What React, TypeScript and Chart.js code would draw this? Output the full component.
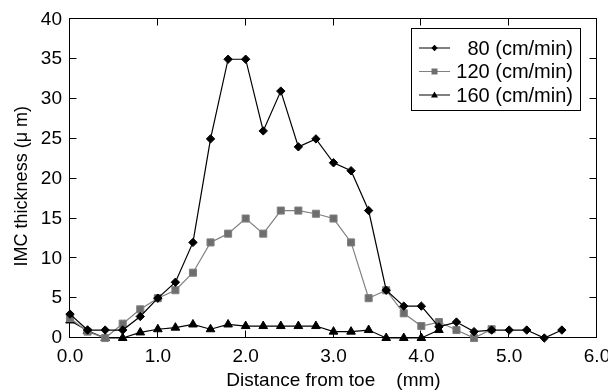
import React, { useEffect, useRef } from 'react';
import { Chart, registerables } from 'chart.js';

Chart.register(...registerables);

// Distance from toe (mm) and IMC thickness (µm) for each speed
const distance80 = [0, 0.2, 0.4, 0.6, 0.8, 1.0, 1.2, 1.4, 1.6, 1.8, 2.0, 2.2, 2.4, 2.6, 2.8, 3.0, 3.2, 3.4, 3.6, 3.8, 4.0, 4.2, 4.4, 4.6, 4.8, 5.0, 5.2, 5.4, 5.6];
const thickness80 = [3, 1, 1, 1, 2.7, 5, 7, 12, 25, 35, 35, 26, 31, 24, 25, 22, 21, 16, 6, 4, 4, 1.4, 2, 0.8, 1, 1, 1, 0, 1];

const distance120 = [0, 0.2, 0.4, 0.6, 0.8, 1.0, 1.2, 1.4, 1.6, 1.8, 2.0, 2.2, 2.4, 2.6, 2.8, 3.0, 3.2, 3.4, 3.6, 3.8, 4.0, 4.2, 4.4, 4.6, 4.8];
const thickness120 = [2.5, 0.8, 0, 1.8, 3.6, 5, 6, 8.2, 12, 13.1, 15, 13.1, 16, 16, 15.6, 15, 12, 5, 6, 3.1, 1.5, 2, 1, 0, 1.1];

const distance160 = [0, 0.2, 0.4, 0.6, 0.8, 1.0, 1.2, 1.4, 1.6, 1.8, 2.0, 2.2, 2.4, 2.6, 2.8, 3.0, 3.2, 3.4, 3.6, 3.8, 4.0, 4.2];
const thickness160 = [2.2, 0.9, 0, 0, 0.7, 1.1, 1.3, 1.7, 1.1, 1.7, 1.5, 1.5, 1.5, 1.5, 1.5, 0.8, 0.8, 1.0, 0, 0, 0, 1.0];

const seriesLabels = ['80 (cm/min)', '120 (cm/min)', '160 (cm/min)'];
const xTitle = 'Distance from toe    (mm)';
const yTitle = 'IMC thickness (μ m)   ';

const FONT = "'Liberation Sans', Arial, sans-serif";

const toPoints = (xs: number[], ys: number[]) => xs.map((x, i) => ({ x, y: ys[i] }));

const framePlugin = {
  id: 'frameTicks',
  beforeDatasetsDraw(chart: any) {
    const { ctx, chartArea, scales } = chart;
    const { left, right, top, bottom } = chartArea;
    const L = Math.round(left) - 0.5;
    const R = Math.round(right) - 0.5;
    const T = Math.round(top) - 0.5;
    const B = Math.round(bottom) - 0.5;
    ctx.save();
    ctx.strokeStyle = '#000';
    ctx.lineWidth = 1;
    ctx.strokeRect(L, T, R - L, B - T);
    const tl = 7;
    ctx.beginPath();
    scales.x.ticks.forEach((t: any) => {
      const px = Math.round(scales.x.getPixelForValue(t.value)) - 0.5;
      ctx.moveTo(px, B);
      ctx.lineTo(px, B - tl);
      ctx.moveTo(px, T);
      ctx.lineTo(px, T + tl);
    });
    scales.y.ticks.forEach((t: any) => {
      const py = Math.round(scales.y.getPixelForValue(t.value)) - 0.5;
      ctx.moveTo(L, py);
      ctx.lineTo(L + tl, py);
      ctx.moveTo(R, py);
      ctx.lineTo(R - tl, py);
    });
    ctx.stroke();
    ctx.restore();
  },
};

const legendPlugin = {
  id: 'boxLegend',
  afterDraw(chart: any) {
    const { ctx } = chart;
    const bx = 411.5, by = 28.5, bw = 169, bh = 82;
    ctx.save();
    ctx.fillStyle = '#fff';
    ctx.fillRect(bx, by, bw, bh);
    ctx.strokeStyle = '#000';
    ctx.lineWidth = 1;
    ctx.strokeRect(bx, by, bw, bh);
    const rows = [48, 71.5, 95];
    chart.data.datasets.forEach((ds: any, i: number) => {
      const y = rows[i];
      ctx.strokeStyle = ds.borderColor;
      ctx.lineWidth = 1;
      ctx.beginPath();
      ctx.moveTo(419, y);
      ctx.lineTo(450, y);
      ctx.stroke();
      ctx.fillStyle = ds.pointBackgroundColor;
      ctx.strokeStyle = ds.pointBorderColor;
      const cx = 434.5;
      const r = 3.2;
      ctx.beginPath();
      if (ds.pointStyle === 'rectRot') {
        ctx.moveTo(cx, y - r);
        ctx.lineTo(cx + r, y);
        ctx.lineTo(cx, y + r);
        ctx.lineTo(cx - r, y);
      } else if (ds.pointStyle === 'rect') {
        ctx.rect(cx - 3, y - 3, 6, 6);
      } else {
        ctx.moveTo(cx, y - 3.5);
        ctx.lineTo(cx + 3.5, y + 2.5);
        ctx.lineTo(cx - 3.5, y + 2.5);
      }
      ctx.closePath();
      ctx.fill();
      ctx.fillStyle = '#000';
      ctx.font = `20px ${FONT}`;
      ctx.textAlign = 'right';
      ctx.textBaseline = 'middle';
      ctx.fillText(ds.label, 573, y + 1);
    });
    ctx.restore();
  },
};

export default function App() {
  const canvasRef = useRef<HTMLCanvasElement | null>(null);

  useEffect(() => {
    const canvas = canvasRef.current;
    if (!canvas) return;
    const chart = new Chart(canvas, {
      type: 'line',
      data: {
        datasets: [
          {
            label: seriesLabels[0],
            data: toPoints(distance80, thickness80),
            borderColor: '#000',
            borderWidth: 1.2,
            pointStyle: 'rectRot',
            pointRadius: 4.2,
            pointBackgroundColor: '#000',
            pointBorderColor: '#000',
            pointBorderWidth: 1,
            clip: false,
          },
          {
            label: seriesLabels[1],
            data: toPoints(distance120, thickness120),
            borderColor: '#808080',
            borderWidth: 1.2,
            pointStyle: 'rect',
            pointRadius: 5,
            pointBackgroundColor: '#6e6e6e',
            pointBorderColor: '#808080',
            pointBorderWidth: 1,
            clip: false,
          },
          {
            label: seriesLabels[2],
            data: toPoints(distance160, thickness160),
            borderColor: '#000',
            borderWidth: 1.2,
            pointStyle: 'triangle',
            pointRadius: 5,
            pointBackgroundColor: '#000',
            pointBorderColor: '#000',
            pointBorderWidth: 1,
            clip: false,
          },
        ] as any,
      },
      options: {
        animation: false,
        responsive: false,
        devicePixelRatio: 1,
        layout: { padding: { top: 16, right: 11, left: 0, bottom: 0 } },
        plugins: {
          legend: { display: false },
          tooltip: { enabled: false },
        },
        elements: { line: { tension: 0 } },
        scales: {
          x: {
            type: 'linear',
            min: 0,
            max: 6,
            grid: { display: false, drawTicks: false },
            border: { display: false },
            ticks: {
              stepSize: 1,
              padding: 7,
              color: '#000',
              font: { family: FONT, size: 19 },
              callback: (v: any) => Number(v).toFixed(1),
              maxRotation: 0,
            },
            title: {
              display: true,
              text: xTitle,
              color: '#000',
              font: { family: FONT, size: 19 },
              padding: { top: 0, bottom: 0 },
            },
            afterFit: (s: any) => {
              s.height = 54;
              s.paddingRight = 0;
            },
          },
          y: {
            min: 0,
            max: 40,
            grid: { display: false, drawTicks: false },
            border: { display: false },
            ticks: {
              stepSize: 5,
              padding: 8,
              color: '#000',
              font: { family: FONT, size: 19 },
            },
            title: {
              display: true,
              text: yTitle,
              color: '#000',
              font: { family: FONT, size: 18 },
              padding: { top: 11, bottom: 0 },
            },
            afterFit: (s: any) => {
              s.width = 70;
            },
          },
        },
      } as any,
      plugins: [framePlugin, legendPlugin],
    });
    return () => chart.destroy();
  }, []);

  return (
    <div style={{ position: 'absolute', left: 0, top: 0, width: 608, height: 392, background: '#fff' }}>
      <canvas ref={canvasRef} width={608} height={392} />
    </div>
  );
}
